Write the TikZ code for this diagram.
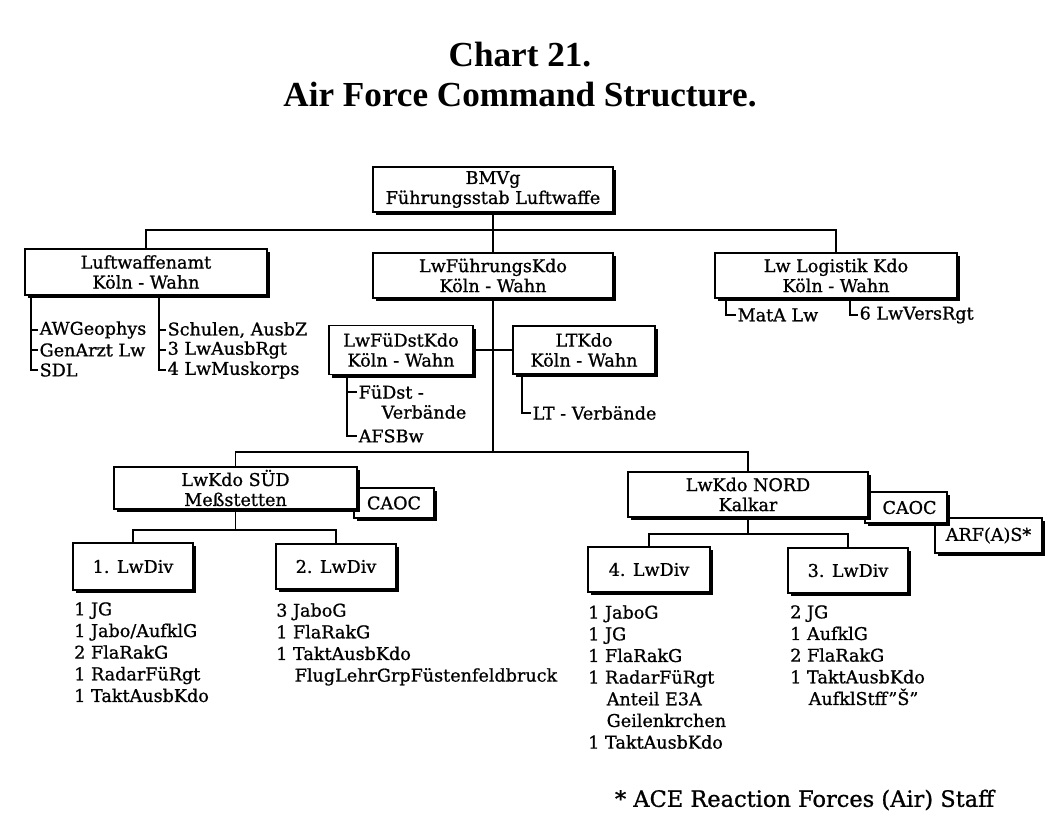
\documentclass[tikz,border=0pt]{standalone}
\usepackage{fontspec}
\setmainfont[FakeBold=0.9]{DejaVu Serif}
\newfontfamily\titlefont{Liberation Serif}
\usetikzlibrary{shadows}

\begin{document}
\begin{tikzpicture}[
    x=0.025cm, y=-0.025cm,
    every node/.style={font=\fontsize{12.5}{15.4}\selectfont},
    unit/.style={draw, line width=0.85pt, fill=white, align=center, inner sep=0pt,
        font=\fontsize{12.5}{14.2}\selectfont,
        drop shadow={shadow xshift=2.2pt, shadow yshift=-2.2pt, fill=black, opacity=1}},
    item/.style={anchor=west, inner sep=1pt},
    list/.style={anchor=north west, align=left, inner sep=0pt},
    link/.style={line width=0.95pt}
]
\useasboundingbox (0,0) rectangle (1045,825);

% Title
\node[font=\titlefont\bfseries\fontsize{25}{28.5}\selectfont, align=center] (title) at (520,75) {Chart 21.\\Air Force Command Structure.};

% Top level
\node[unit, minimum width=6cm, minimum height=1.125cm] (bmvg) at (493,189.5) {BMVg\\Führungsstab Luftwaffe};
\node[unit, minimum width=6.05cm, minimum height=1.15cm] (lwa) at (146,272) {Luftwaffenamt\\Köln - Wahn};
\node[unit, minimum width=6cm, minimum height=1.125cm] (lwfk) at (493,275.5) {LwFührungsKdo\\Köln - Wahn};
\node[unit, minimum width=6.05cm, minimum height=1.125cm] (log) at (836,275.5) {Lw Logistik Kdo\\Köln - Wahn};
\node[unit, minimum width=3.6cm, minimum height=1.225cm] (fuedst) at (401,350) {LwFüDstKdo\\Köln - Wahn};
\node[unit, minimum width=3.55cm, minimum height=1.2cm] (ltkdo) at (584,350) {LTKdo\\Köln - Wahn};

% Commands
\node[unit, minimum width=2cm, minimum height=0.75cm] (caocs) at (394,503) {CAOC};
\node[unit, minimum width=6.075cm, minimum height=1.05cm] (sued) at (235.5,488) {LwKdo SÜD\\Meßstetten};
\node[unit, minimum width=2.675cm, minimum height=0.875cm] (arf) at (988.5,535.5) {ARF(A)S*};
\node[unit, minimum width=2.05cm, minimum height=0.775cm] (caocn) at (906,507.5) {\hspace*{0.4em}CAOC};
\node[unit, minimum width=6cm, minimum height=1.125cm] (nord) at (748,494.5) {LwKdo NORD\\Kalkar};

% Divisions
\node[unit, minimum width=3cm, minimum height=1.175cm] (div1) at (133,566.5) {1. LwDiv};
\node[unit, minimum width=3cm, minimum height=1.125cm] (div2) at (336,566.5) {2. LwDiv};
\node[unit, minimum width=3.05cm, minimum height=1.125cm] (div4) at (649,569.5) {4. LwDiv};
\node[unit, minimum width=3cm, minimum height=1.125cm] (div3) at (848,570.5) {3. LwDiv};

% Items
\node[item] (awg) at (38,330) {AWGeophys};
\node[item] (gen) at (38,350) {GenArzt Lw};
\node[item] (sdl) at (38,370) {SDL};
\node[item] (schul) at (166,330) {Schulen, AusbZ};
\node[item] (ausb) at (166,350) {3 LwAusbRgt};
\node[item] (musk) at (166,370) {4 LwMuskorps};
\node[item] (fdv) at (357,392) {FüDst -};
\node[item] (fdv2) at (380,412) {Verbände};
\node[item] (afs) at (357,436) {AFSBw};
\node[item] (ltv) at (531,413) {LT - Verbände};
\node[item] (mata) at (736,315) {MatA Lw};
\node[item] (vers) at (858,315) {6 LwVersRgt};

% Unit lists
\node[list] (list1) at (74,602) {1 JG\\1 Jabo/AufklG\\2 FlaRakG\\1 RadarFüRgt\\1 TaktAusbKdo};
\node[list] (list2) at (276,603) {3 JaboG\\1 FlaRakG\\1 TaktAusbKdo\\\hspace*{1.05em}FlugLehrGrpFüstenfeldbruck};
\node[list] (list4) at (588,605) {1 JaboG\\1 JG\\1 FlaRakG\\1 RadarFüRgt\\\hspace*{1.05em}Anteil E3A\\\hspace*{1.05em}Geilenkrchen\\1 TaktAusbKdo};
\node[list] (list3) at (790,605) {2 JG\\1 AufklG\\2 FlaRakG\\1 TaktAusbKdo\\\hspace*{1.05em}AufklStff"Š"};

% Footnote
\node[anchor=west, font=\fontsize{16}{18}\selectfont] (note) at (610,800) {* ACE Reaction Forces (Air) Staff};

% Lines
\coordinate (bus) at (493,230);
\coordinate (bus2) at (493,452);
\coordinate (sbus) at (235.5,530);
\coordinate (nbus) at (748,534);
\draw[link] (bmvg) -- (lwfk);
\draw[link] (lwa.north) |- (bus) -| (log.north);
\draw[link] (lwfk) -- (bus2);
\draw[link] (fuedst.east) -- (ltkdo.west);
\draw[link] (sued.north) |- (bus2) -| (nord.north);
\draw[link] (sued) -- (sbus);
\draw[link] (div1.north) |- (sbus) -| (div2.north);
\draw[link] (nord) -- (nbus);
\draw[link] (div4.north) |- (nbus) -| (div3.north);

\coordinate (lwaA) at (31,295);
\coordinate (lwaB) at (159,295);
\draw[link] (lwaA) |- (sdl.west);
\foreach \n in {awg,gen} \draw[link] (lwaA |- \n.west) -- (\n.west);
\draw[link] (lwaB) |- (musk.west);
\foreach \n in {schul,ausb} \draw[link] (lwaB |- \n.west) -- (\n.west);

\coordinate (fdA) at (347,374.5);
\draw[link] (fdA) |- (afs.west);
\draw[link] (fdA |- fdv.west) -- (fdv.west);
\coordinate (ltA) at (522,374);
\draw[link] (ltA) |- (ltv.west);
\coordinate (logA) at (726,298);
\coordinate (logB) at (850,298);
\draw[link] (logA) |- (mata.west);
\draw[link] (logB) |- (vers.west);

\end{tikzpicture}
\end{document}
